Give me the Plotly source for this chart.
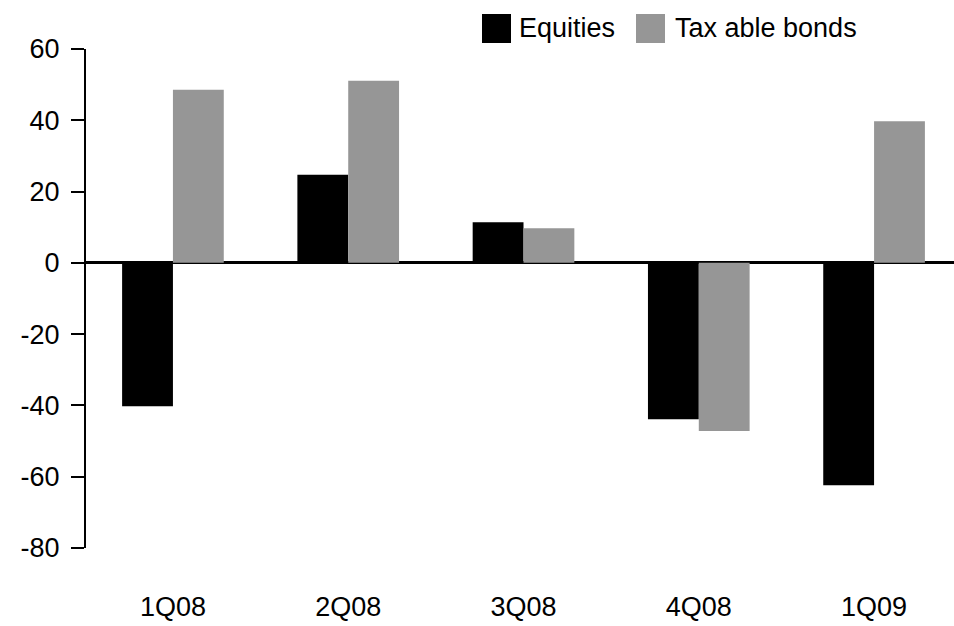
import plotly.graph_objects as go

categories = ["1Q08", "2Q08", "3Q08", "4Q08", "1Q09"]
equities = [-40.2, 24.7, 11.4, -43.9, -62.4]
taxable_bonds = [48.6, 51.1, 9.7, -47.2, 39.7]
y_ticks = [60, 40, 20, 0, -20, -40, -60, -80]

FONT = "Liberation Sans Narrow, Arial Narrow, Liberation Sans, Arial, sans-serif"
BLACK = "#000000"
GREY = "#969696"

fig = go.Figure()
fig.add_trace(go.Bar(x=categories, y=equities, name="Equities",
                     marker=dict(color=BLACK, line=dict(width=0)), showlegend=False))
fig.add_trace(go.Bar(x=categories, y=taxable_bonds, name="Tax able bonds",
                     marker=dict(color=GREY, line=dict(width=0)), showlegend=False))

L, T, B = 86, 49, 78
W, H = 954, 626
pw, ph = W - L, H - T - B

def px(x):
    return (x - L) / pw

def py(y):
    return (H - B - y) / ph

shapes = [
    dict(type="rect", xref="paper", yref="paper", x0=px(482), x1=px(511), y0=py(43), y1=py(14),
         fillcolor=BLACK, line=dict(width=0)),
    dict(type="rect", xref="paper", yref="paper", x0=px(636), x1=px(665), y0=py(43), y1=py(14),
         fillcolor=GREY, line=dict(width=0)),
]
annotations = [
    dict(text="Equities", xref="paper", yref="paper", x=px(517), y=py(28), xanchor="left",
         yanchor="middle", showarrow=False, font=dict(size=27, color=BLACK, family=FONT)),
    dict(text="Tax able bonds", xref="paper", yref="paper", x=px(673), y=py(28), xanchor="left",
         yanchor="middle", showarrow=False, font=dict(size=27, color=BLACK, family=FONT)),
]

fig.update_layout(
    width=W, height=H,
    margin=dict(l=L, r=0, t=T, b=B),
    paper_bgcolor="white", plot_bgcolor="white",
    barmode="group", bargap=0.42, bargroupgap=0,
    font=dict(family=FONT, size=27, color=BLACK),
    shapes=shapes, annotations=annotations,
    showlegend=False,
)
fig.update_xaxes(
    range=[-0.496, 4.456], showgrid=False, showline=False, ticks="",
    tickfont=dict(size=27), ticklabelstandoff=40,
)
fig.update_yaxes(
    range=[-80, 60], tickvals=y_ticks, ticktext=[str(v) for v in y_ticks],
    showgrid=False, showline=True, linecolor=BLACK, linewidth=2,
    ticks="outside", ticklen=13, tickwidth=2, tickcolor=BLACK,
    zeroline=True, zerolinecolor=BLACK, zerolinewidth=3,
    tickfont=dict(size=27), ticklabelstandoff=6,
)

fig.write_html(
    "out.html",
    config={"displayModeBar": False},
    post_script="document.body.style.margin='0';document.body.style.overflow='hidden';",
)
